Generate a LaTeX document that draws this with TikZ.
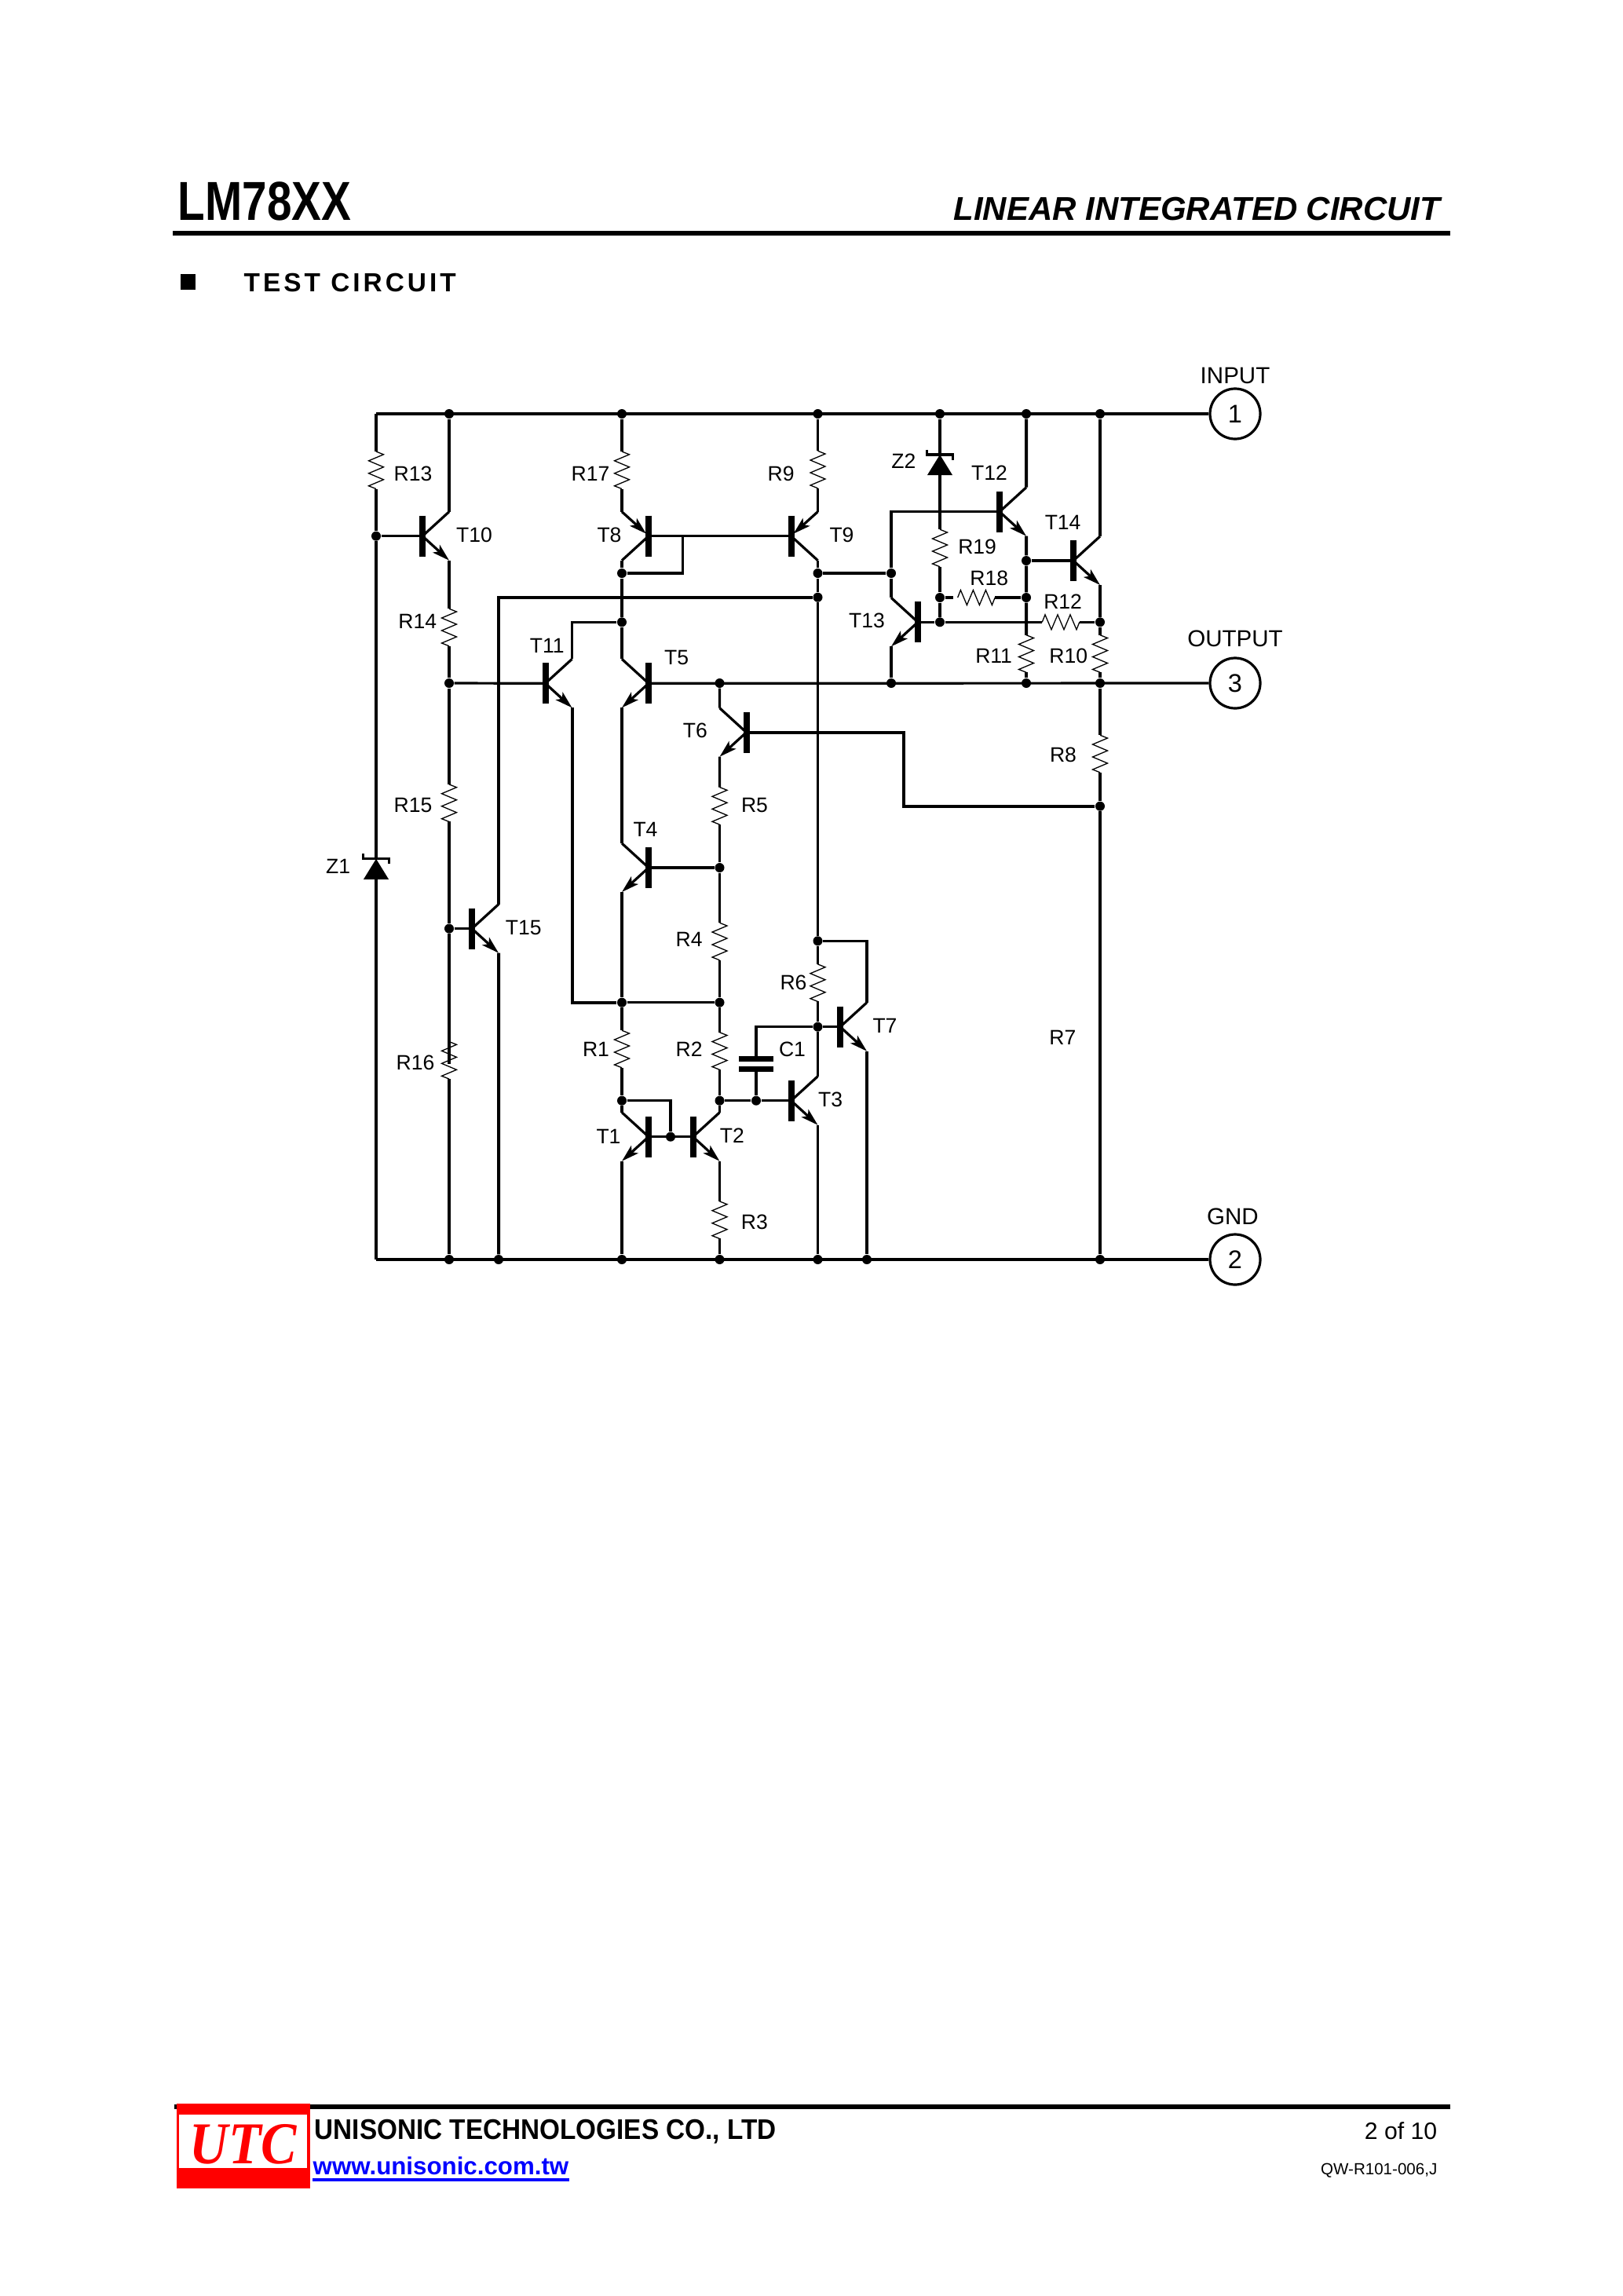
\documentclass[tikz,border=0pt]{standalone}
\usepackage{fontspec}
\setmainfont{Liberation Sans}
\newfontfamily\headfont[FakeStretch=0.81]{Liberation Sans}
\newfontfamily\footfont[FakeStretch=0.92]{Liberation Sans}
\newfontfamily\spacedfont[LetterSpace=12]{Liberation Sans}
\newfontfamily\logofont[FakeStretch=0.9]{Liberation Serif}
\usetikzlibrary{arrows.meta}
\tikzset{
    wire/.style={line width=0.32mm},
    bus/.style={line width=0.4mm},
    rule/.style={line width=0.6mm},
    lbl/.style={inner sep=0pt, font=\fontsize{7.55pt}{9pt}\selectfont},
    pinlbl/.style={inner sep=0pt, font=\fontsize{8.4pt}{10pt}\selectfont},
    dot/.style={circle, fill=black, inner sep=0pt, minimum size=0.12cm},
    pin/.style={circle, draw, line width=0.32mm, inner sep=0pt, minimum size=0.64cm, font=\fontsize{9.25pt}{11pt}\selectfont},
    txt/.style={inner sep=0pt, anchor=base west},
    npn/.pic={
        \coordinate (-b) at (0, 0);
        \coordinate (-c) at (0.34, -0.31);
        \coordinate (-e) at (0.34, 0.31);
        \draw[line width=0.08cm] (0, -0.26) -- (0, 0.26);
        \draw[wire] (-b) -- (-c);
        \draw[wire, -{Stealth[length=0.22cm, width=0.13cm, inset=0.05cm]}] (-b) -- (-e);
    },
    pnp/.pic={
        \coordinate (-b) at (0, 0);
        \coordinate (-e) at (0.34, -0.31);
        \coordinate (-c) at (0.34, 0.31);
        \draw[line width=0.08cm] (0, -0.26) -- (0, 0.26);
        \draw[wire, -{Stealth[length=0.22cm, width=0.13cm, inset=0.05cm]}] (-e) -- (0.03, -0.03);
        \draw[wire] (-b) -- (-c);
    },
    res/.pic={
        \coordinate (-a) at (0, -0.2375);
        \coordinate (-b) at (0, 0.2375);
        \draw[line width=0.13mm] (-a) -- (0.095, -0.2) -- (-0.095, -0.12) -- (0.095, -0.04)
            -- (-0.095, 0.04) -- (0.095, 0.12) -- (-0.095, 0.2) -- (-b);
    },
    zener/.pic={
        \coordinate (-k) at (0, 0);
        \coordinate (-a) at (0, 0.26);
        \fill (0, 0) -- (-0.16, 0.26) -- (0.16, 0.26) -- cycle;
        \draw[wire] (-0.165, -0.065) -- (-0.165, 0) -- (0.165, 0) -- (0.165, 0.065);
    },
    cap/.pic={
        \coordinate (-a) at (0, -0.062);
        \coordinate (-b) at (0, 0.062);
        \draw[line width=0.067cm] (-0.22, -0.062) -- (0.22, -0.062);
        \draw[line width=0.067cm] (-0.22, 0.062) -- (0.22, 0.062);
    },
}
\begin{document}
\begin{tikzpicture}[x=1cm, y=-1cm]
    \useasboundingbox (0, 0) rectangle (20.67, 29.24);
    \fill[white] (0, 0) rectangle (20.67, 29.24);

    \coordinate (hdL) at (2.204, 2.967);
    \coordinate (hdR) at (18.47, 2.967);
    \coordinate (ftL) at (2.218, 26.83);
    \coordinate (ftR) at (18.467, 26.83);
    \draw[rule] (hdL) -- (hdR);
    \draw[rule] (ftL) -- (ftR);

    \node[txt, font=\headfont\bfseries\fontsize{19.9pt}{24pt}\selectfont] (title) at (2.26, 2.80) {LM78XX};
    \node[txt, anchor=base east, font=\bfseries\itshape\fontsize{11.95pt}{14pt}\selectfont] (subtitle) at (18.35, 2.80) {LINEAR INTEGRATED CIRCUIT};
    \node[fill=black, inner sep=0pt, minimum width=0.19cm, minimum height=0.2cm] (bullet) at (2.39, 3.59) {};
    \node[txt, font=\spacedfont\bfseries\fontsize{9.5pt}{12pt}\selectfont] (section) at (3.10, 3.717) {TEST CIRCUIT};

    \node[fill=red, inner sep=0pt, minimum width=1.70cm, minimum height=1.077cm] (logoRed) at (3.10, 27.33) {};
    \node[fill=white, inner sep=0pt, minimum width=1.63cm, minimum height=0.683cm] (logoWhite) at (3.091, 27.269) {};
    \node[txt, anchor=base, text=red, font=\logofont\bfseries\itshape\fontsize{21.5pt}{26pt}\selectfont] (logoText) at (3.10, 27.55) {UTC};
    \node[txt, font=\footfont\bfseries\fontsize{10.3pt}{12pt}\selectfont] (company) at (4.00, 27.243) {UNISONIC TECHNOLOGIES CO., LTD};
    \node[txt, text=blue, font=\bfseries\fontsize{8.9pt}{11pt}\selectfont] (site) at (3.98, 27.693) {www.unisonic.com.tw};
    \draw[blue, line width=0.035cm] ([yshift=-0.067cm]site.base west) -- ([yshift=-0.067cm]site.base east);
    \node[txt, anchor=base east, font=\fontsize{8.6pt}{10pt}\selectfont] (page) at (18.31, 27.24) {2 of 10};
    \node[txt, anchor=base east, font=\fontsize{5.85pt}{7pt}\selectfont] (docno) at (18.31, 27.693) {QW-R101-006,J};

    \node[dot] (Ta) at (5.72, 5.27) {};
    \node[dot] (Td) at (7.92, 5.27) {};
    \node[dot] (Tf) at (10.415, 5.27) {};
    \node[dot] (Ti) at (11.97, 5.27) {};
    \node[dot] (Tj) at (13.07, 5.27) {};
    \node[dot] (Tk) at (14.01, 5.27) {};
    \node[dot] (Ga) at (5.72, 16.04) {};
    \node[dot] (Gb) at (6.35, 16.04) {};
    \node[dot] (Gd) at (7.92, 16.04) {};
    \node[dot] (Ge) at (9.165, 16.04) {};
    \node[dot] (Gf) at (10.415, 16.04) {};
    \node[dot] (Gg) at (11.04, 16.04) {};
    \node[dot] (Gk) at (14.01, 16.04) {};
    \node[dot] (Oa) at (5.72, 8.70) {};
    \node[dot] (Oe) at (9.165, 8.70) {};
    \node[dot] (Oh) at (11.35, 8.70) {};
    \node[dot] (Oj) at (13.07, 8.70) {};
    \node[dot] (Ok) at (14.01, 8.70) {};
    \node[dot] (J10) at (4.79, 6.827) {};
    \node[dot] (J8) at (7.92, 7.30) {};
    \node[dot] (J9) at (10.415, 7.30) {};
    \node[dot] (J13) at (11.35, 7.30) {};
    \node[dot] (J15) at (10.415, 7.607) {};
    \node[dot] (J11) at (7.92, 7.923) {};
    \node[dot] (J18L) at (11.97, 7.61) {};
    \node[dot] (J12L) at (11.97, 7.923) {};
    \node[dot] (J18R) at (13.07, 7.61) {};
    \node[dot] (J14) at (13.07, 7.14) {};
    \node[dot] (J12R) at (14.01, 7.923) {};
    \node[dot] (J7R) at (14.01, 10.267) {};
    \node[dot] (J4) at (9.165, 11.05) {};
    \node[dot] (JZ) at (5.72, 11.826) {};
    \node[dot] (J1T) at (7.92, 12.767) {};
    \node[dot] (J2T) at (9.165, 12.767) {};
    \node[dot] (J6T) at (10.415, 11.983) {};
    \node[dot] (J6B) at (10.415, 13.077) {};
    \node[dot] (J1) at (7.92, 14.017) {};
    \node[dot] (J12B) at (8.54, 14.477) {};
    \node[dot] (J2) at (9.165, 14.017) {};
    \node[dot] (JC) at (9.63, 14.017) {};

    \coordinate (TL) at (4.79, 5.27);
    \coordinate (BL) at (4.79, 16.04);
    \coordinate (FB) at (8.696, 6.827);
    \coordinate (bend) at (11.51, 10.267);
    \coordinate (stub) at (12.143, 7.61);
    \coordinate (R16in) at (5.72, 13.55);

    \node[pin] (pin1) at (15.73, 5.27) {1};
    \node[pin] (pin3) at (15.73, 8.70) {3};
    \node[pin] (pin2) at (15.73, 16.04) {2};
    \node[pinlbl] (lInput) at (15.73, 4.783) {INPUT};
    \node[pinlbl] (lOutput) at (15.73, 8.13) {OUTPUT};
    \node[pinlbl] (lGnd) at (15.70, 15.493) {GND};

    \pic (T1) [xscale=-1] at (8.26, 14.477) {npn};
    \pic (T2) at (8.825, 14.477) {npn};
    \pic (T3) at (10.075, 14.017) {npn};
    \pic (T4) [xscale=-1] at (8.26, 11.05) {npn};
    \pic (T5) [xscale=-1] at (8.26, 8.703) {npn};
    \pic (T6) [xscale=-1] at (9.505, 9.327) {npn};
    \pic (T7) at (10.70, 13.077) {npn};
    \pic (T8) [xscale=-1] at (8.26, 6.827) {pnp};
    \pic (T9) at (10.075, 6.827) {pnp};
    \pic (T10) at (5.38, 6.827) {npn};
    \pic (T11) at (6.945, 8.703) {npn};
    \pic (T12) at (12.73, 6.517) {npn};
    \pic (T13) [xscale=-1] at (11.69, 7.923) {npn};
    \pic (T14) at (13.67, 7.14) {npn};
    \pic (T15) at (6.01, 11.826) {npn};

    \pic (R1) at (7.92, 13.36) {res};
    \pic (R2) at (9.165, 13.385) {res};
    \pic (R3) at (9.165, 15.537) {res};
    \pic (R4) at (9.165, 11.99) {res};
    \pic (R5) at (9.165, 10.263) {res};
    \pic (R6) at (10.415, 12.517) {res};
    \pic (R8) at (14.01, 9.60) {res};
    \pic (R9) at (10.415, 5.98) {res};
    \pic (R10) at (14.01, 8.325) {res};
    \pic (R11) at (13.07, 8.325) {res};
    \pic (R12) [rotate=90] at (13.51, 7.923) {res};
    \pic (R13) at (4.79, 5.988) {res};
    \pic (R14) at (5.72, 7.99) {res};
    \pic (R15) at (5.72, 10.227) {res};
    \pic (R16) at (5.72, 13.503) {res};
    \pic (R17) at (7.92, 5.988) {res};
    \pic (R18) [rotate=90] at (12.434, 7.61) {res};
    \pic (R19) at (11.97, 6.98) {res};

    \pic (Z1) at (4.79, 10.938) {zener};
    \pic (Z2) at (11.97, 5.79) {zener};
    \pic (C1) at (9.63, 13.55) {cap};

    \draw[bus] (TL) -- (pin1);
    \draw[bus] (BL) -- (pin2);
    \draw[wire] (Oa) -- (T11-b);
    \draw[wire] (T5-b) -- (pin3);

    \draw[bus] (TL) -- (R13-a);
    \draw[bus] (R13-b) -- (J10) -- (Z1-k);
    \draw[bus] (Z1-a) -- (BL);
    \draw[wire] (J10) -- (T10-b);

    \draw[wire] (Ta) -- (T10-c);
    \draw[wire] (T10-e) -- (R14-a);
    \draw[wire] (R14-b) -- (Oa) -- (R15-a);
    \draw[wire] (R15-b) -- (JZ) -- (R16in);
    \draw[wire] (R16-b) -- (Ga);
    \draw[wire] (JZ) -- (T15-b);
    \draw[bus] (T15-e) -- (Gb);
    \draw[bus] (J15) -| (T15-c);

    \draw[wire] (Td) -- (R17-a);
    \draw[wire] (R17-b) -- (T8-e);
    \draw[wire] (T8-c) -- (J8) -- (J11) -- (T5-c);
    \draw[wire] (J11) -| (T11-c);
    \draw[wire] (T8-b) -- (T9-b);
    \draw[wire] (J8) -| (FB);
    \draw[wire] (T5-e) -- (T4-c);
    \draw[wire] (T4-e) -- (J1T) -- (R1-a);
    \draw[wire] (R1-b) -- (J1) -- (T1-c);
    \draw[wire] (T1-e) -- (Gd);
    \draw[wire] (J1) -| (J12B);
    \draw[wire] (T1-b) -- (T2-b);
    \draw[bus] (T11-e) |- (J1T);
    \draw[wire] (J1T) -- (J2T);

    \draw[wire] (Oe) -- (T6-c);
    \draw[wire] (T6-e) -- (R5-a);
    \draw[wire] (R5-b) -- (J4) -- (R4-a);
    \draw[wire] (R4-b) -- (J2T) -- (R2-a);
    \draw[wire] (R2-b) -- (J2) -- (T2-c);
    \draw[wire] (T2-e) -- (R3-a);
    \draw[wire] (R3-b) -- (Ge);
    \draw[wire] (T4-b) -- (J4);
    \draw[wire] (J2) -- (JC) -- (T3-b);
    \draw[wire] (C1-b) -- (JC);
    \draw[wire] (J6B) -| (C1-a);

    \draw[wire] (Tf) -- (R9-a);
    \draw[wire] (R9-b) -- (T9-e);
    \draw[wire] (T9-c) -- (J9) -- (J15) -- (J6T) -- (R6-a);
    \draw[wire] (R6-b) -- (J6B) -- (T3-c);
    \draw[wire] (T3-e) -- (Gf);
    \draw[wire] (J6B) -- (T7-b);
    \draw[wire] (J6T) -| (T7-c);
    \draw[wire] (T7-e) -- (Gg);
    \draw[wire] (J9) -- (J13);
    \draw[wire] (J13) -- (T13-c);
    \draw[wire] (J13) |- (T12-b);
    \draw[wire] (T13-e) -- (Oh);
    \draw[wire] (T13-b) -- (J12L) -- (R12-a);
    \draw[wire] (R12-b) -- (J12R);

    \draw[wire] (Ti) -- (Z2-k);
    \draw[wire] (Z2-a) -- (R19-a);
    \draw[wire] (R19-b) -- (J18L) -- (J12L);
    \draw[wire] (J18L) -- (stub);
    \draw[wire] (R18-b) -- (J18R);

    \draw[bus] (Tj) -- (T12-c);
    \draw[bus] (T12-e) -- (J14) -- (J18R) -- (R11-a);
    \draw[wire] (R11-b) -- (Oj);
    \draw[wire] (J14) -- (T14-b);
    \draw[bus] (Tk) -- (T14-c);
    \draw[bus] (T14-e) -- (J12R) -- (R10-a);
    \draw[bus] (R10-b) -- (Ok) -- (R8-a);
    \draw[bus] (R8-b) -- (J7R) -- (Gk);
    \draw[bus] (T6-b) -| (bend) -- (J7R);

    \node[lbl] (lT1) at (7.75, 14.47) {T1};
    \node[lbl] (lT2) at (9.324, 14.467) {T2};
    \node[lbl] (lT3) at (10.576, 14.00) {T3};
    \node[lbl] (lT4) at (8.22, 10.56) {T4};
    \node[lbl] (lT5) at (8.616, 8.37) {T5};
    \node[lbl] (lT6) at (8.854, 9.307) {T6};
    \node[lbl] (lT7) at (11.27, 13.06) {T7};
    \node[lbl] (lT8) at (7.76, 6.817) {T8};
    \node[lbl] (lT9) at (10.72, 6.817) {T9};
    \node[lbl] (lT10) at (6.04, 6.817) {T10};
    \node[lbl] (lT11) at (6.967, 8.22) {T11};
    \node[lbl] (lT12) at (12.60, 6.027) {T12};
    \node[lbl] (lT13) at (11.04, 7.907) {T13};
    \node[lbl] (lT14) at (13.536, 6.657) {T14};
    \node[lbl] (lT15) at (6.667, 11.81) {T15};

    \node[lbl] (lR1) at (7.59, 13.367) {R1};
    \node[lbl] (lR2) at (8.777, 13.367) {R2};
    \node[lbl] (lR3) at (9.608, 15.56) {R3};
    \node[lbl] (lR4) at (8.777, 11.967) {R4};
    \node[lbl] (lR5) at (9.61, 10.25) {R5};
    \node[lbl] (lR6) at (10.105, 12.517) {R6};
    \node[lbl] (lR7) at (13.533, 13.217) {R7};
    \node[lbl] (lR8) at (13.54, 9.617) {R8};
    \node[lbl] (lR9) at (9.946, 6.03) {R9};
    \node[lbl] (lR10) at (13.607, 8.35) {R10};
    \node[lbl] (lR11) at (12.656, 8.35) {R11};
    \node[lbl] (lR12) at (13.536, 7.667) {R12};
    \node[lbl] (lR13) at (5.26, 6.033) {R13};
    \node[lbl] (lR14) at (5.317, 7.91) {R14};
    \node[lbl] (lR15) at (5.26, 10.25) {R15};
    \node[lbl] (lR16) at (5.29, 13.535) {R16};
    \node[lbl] (lR17) at (7.52, 6.03) {R17};
    \node[lbl] (lR18) at (12.598, 7.36) {R18};
    \node[lbl] (lR19) at (12.446, 6.967) {R19};
    \node[lbl] (lZ1) at (4.307, 11.03) {Z1};
    \node[lbl] (lZ2) at (11.509, 5.873) {Z2};
    \node[lbl] (lC1) at (10.09, 13.367) {C1};

\end{tikzpicture}
\end{document}
